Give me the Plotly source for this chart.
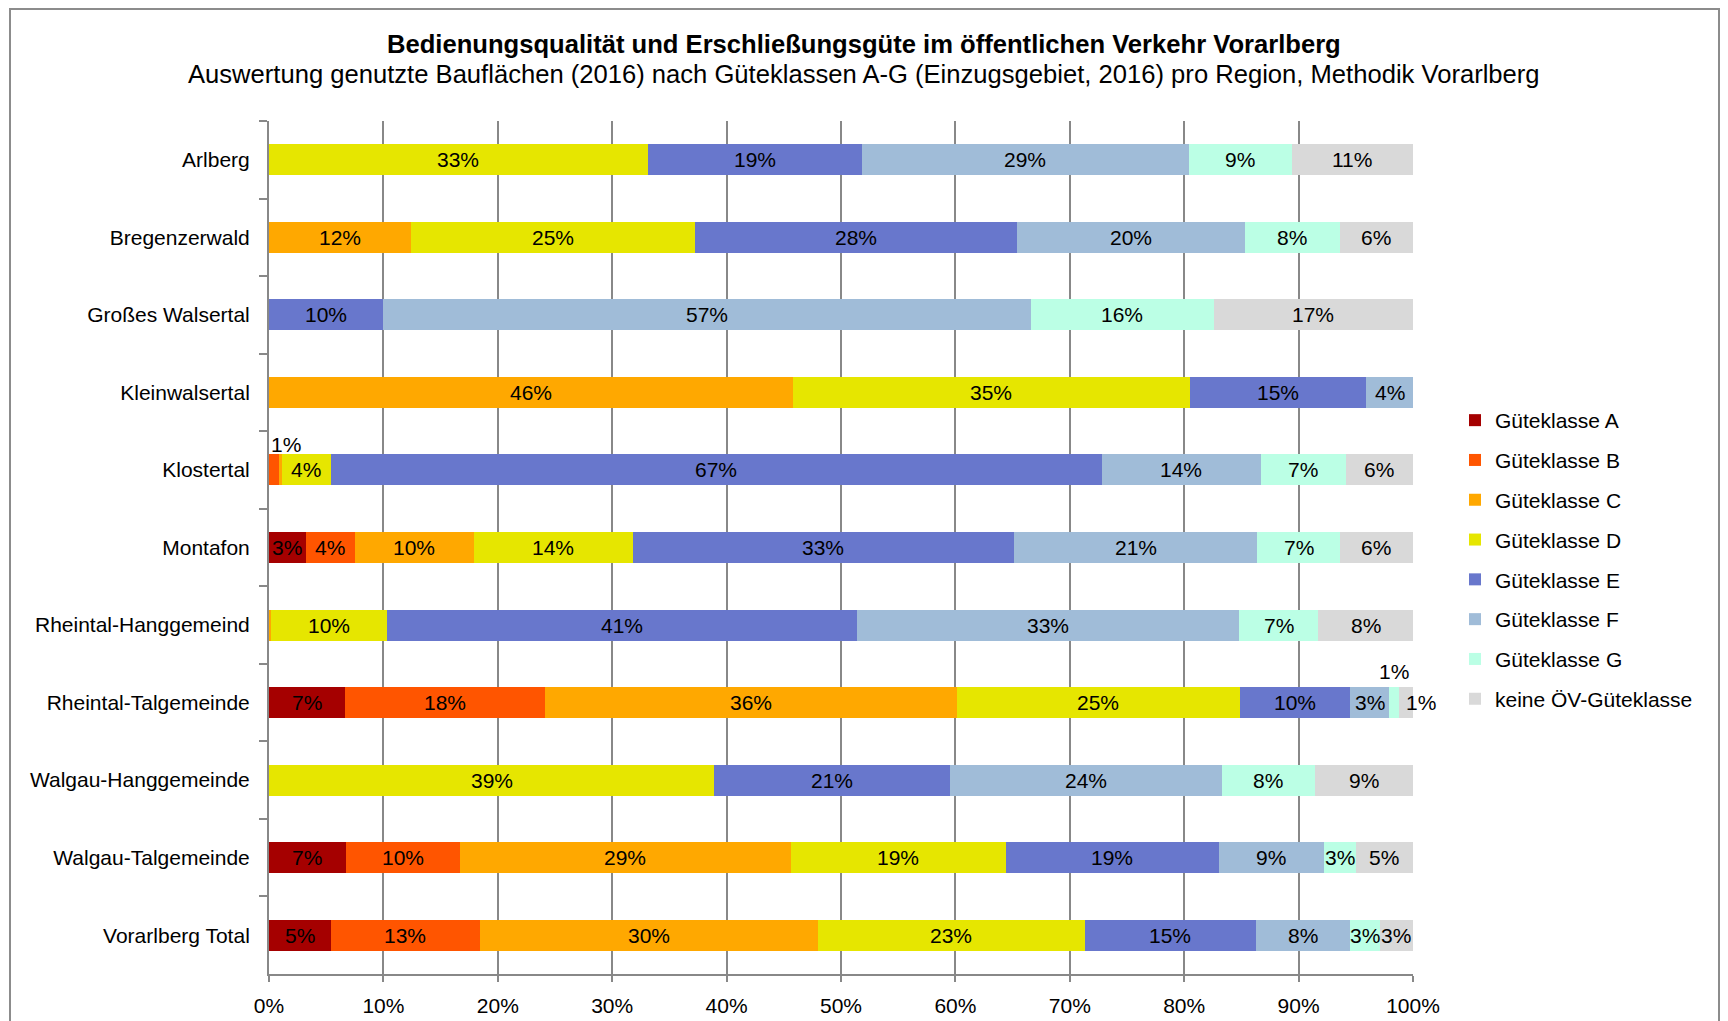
import plotly.graph_objects as go

categories = ["Arlberg", "Bregenzerwald", "Großes Walsertal", "Kleinwalsertal", "Klostertal",
              "Montafon", "Rheintal-Hanggemeind", "Rheintal-Talgemeinde", "Walgau-Hanggemeinde",
              "Walgau-Talgemeinde", "Vorarlberg Total"]

series_names = ["Güteklasse A", "Güteklasse B", "Güteklasse C", "Güteklasse D",
                "Güteklasse E", "Güteklasse F", "Güteklasse G", "keine ÖV-Güteklasse"]

klasse_a = [0, 0, 0, 0, 0, 3.2, 0, 6.6, 0, 6.7, 5.4]
klasse_b = [0, 0, 0, 0, 0.95, 4.3, 0, 17.5, 0, 10.0, 13.0]
klasse_c = [0, 12.4, 0, 45.8, 0.15, 10.4, 0.2, 36.0, 0, 28.9, 29.6]
klasse_d = [33.1, 24.8, 0, 34.7, 4.3, 13.9, 10.1, 24.8, 38.9, 18.8, 23.3]
klasse_e = [18.7, 28.2, 10.0, 15.4, 67.4, 33.3, 41.1, 9.6, 20.6, 18.6, 15.0]
klasse_f = [28.6, 19.9, 56.6, 4.1, 13.9, 21.3, 33.4, 3.4, 23.8, 9.2, 8.2]
klasse_g = [9.0, 8.3, 16.0, 0, 7.4, 7.2, 6.9, 0.9, 8.1, 2.8, 2.6]
keine = [10.6, 6.4, 17.4, 0, 5.9, 6.4, 8.3, 1.2, 8.6, 5.0, 2.9]

x_tick_values = [0, 10, 20, 30, 40, 50, 60, 70, 80, 90, 100]
x_tick_labels = ["0%", "10%", "20%", "30%", "40%", "50%", "60%", "70%", "80%", "90%", "100%"]

series_values = [klasse_a, klasse_b, klasse_c, klasse_d, klasse_e, klasse_f, klasse_g, keine]
colors = ["#A50000", "#FF5500", "#FFA800", "#E6E600", "#6877CC", "#A0BCD8", "#BBFFE5", "#D9D9D9"]

FONT = "Liberation Sans, Arial, sans-serif"
LABEL_SIZE = 21
TITLE_SIZE = 25.6

# label offsets (px) for small segments whose labels were moved
label_shift = {
    ("Klostertal", 1): (12, 25),
    ("Rheintal-Talgemeinde", 6): (0, 31),
    ("Rheintal-Talgemeinde", 7): (15, 0),
}

fig = go.Figure()
for i, (name, vals, col) in enumerate(zip(series_names, series_values, colors)):
    fig.add_trace(go.Bar(
        y=categories, x=vals, name=name, orientation="h",
        marker=dict(color=col, line=dict(width=0)),
        legendgroup=name, hoverinfo="x+name",
    ))

annotations = []
cum = [0.0] * len(categories)
for si, vals in enumerate(series_values):
    for ci, v in enumerate(vals):
        mid = cum[ci] + v / 2
        cum[ci] += v
        if v >= 0.5:
            dx, dy = label_shift.get((categories[ci], si), (0, 0))
            annotations.append(dict(
                x=mid, y=categories[ci], xref="x", yref="y",
                text=f"{int(v + 0.5)}%", showarrow=False,
                xshift=dx, yshift=dy,
                font=dict(family=FONT, size=LABEL_SIZE, color="#000000"),
            ))

OFF = 8  # page body offset
L, R, T, B = 269 - OFF, 315 + OFF, 121 - OFF, 47 + OFF
W, H = 1728, 1021
pw, ph = W - L - R, H - T - B
cx = (W / 2 - OFF - L) / pw

annotations.append(dict(
    x=cx, y=1 + (T - (44 - OFF)) / ph, xref="paper", yref="paper", showarrow=False,
    text="<b>Bedienungsqualität und Erschließungsgüte im öffentlichen Verkehr Vorarlberg</b>",
    font=dict(family=FONT, size=TITLE_SIZE, color="#000000"), xanchor="center", yanchor="middle",
))
annotations.append(dict(
    x=cx, y=1 + (T - (74 - OFF)) / ph, xref="paper", yref="paper", showarrow=False,
    text="Auswertung genutzte Bauflächen (2016) nach Güteklassen A-G (Einzugsgebiet, 2016) pro Region, Methodik Vorarlberg",
    font=dict(family=FONT, size=TITLE_SIZE, color="#000000"), xanchor="center", yanchor="middle",
))

# outer chart frame
xl = (10 - OFF - L) / pw
xr = (1719 - OFF - L) / pw
yt = 1 + (T - (9 - OFF)) / ph
yb = -(B + 5) / ph
shapes = [dict(type="path", xref="paper", yref="paper",
               path=f"M {xl} {yb} L {xl} {yt} L {xr} {yt} L {xr} {yb}",
               line=dict(color="#8C8C8C", width=2))]

fig.update_layout(
    width=W, height=H,
    barmode="stack", bargap=0.6,
    margin=dict(l=L, r=R, t=T, b=B, pad=0),
    paper_bgcolor="white", plot_bgcolor="white",
    font=dict(family=FONT, size=LABEL_SIZE, color="#000000"),
    showlegend=True,
    legend=dict(x=(1455 - OFF - L) / pw, y=(H - B - (400 - OFF)) / ph, xanchor="left", yanchor="top",
                font=dict(family=FONT, size=LABEL_SIZE, color="#000000"),
                tracegroupgap=9.5, traceorder="grouped", bgcolor="rgba(0,0,0,0)"),
    annotations=annotations,
    shapes=shapes,
    xaxis=dict(range=[0, 100], tickvals=x_tick_values, ticktext=x_tick_labels,
               showgrid=True, gridcolor="#888888", gridwidth=1.5,
               showline=True, linecolor="#888888", linewidth=2,
               ticks="outside", ticklen=6, tickcolor="#888888", tickwidth=2,
               ticklabelstandoff=6, zeroline=False, mirror=False,
               tickfont=dict(family=FONT, size=LABEL_SIZE, color="#000000")),
    yaxis=dict(autorange="reversed", showgrid=False,
               showline=True, linecolor="#888888", linewidth=2,
               ticks="outside", tickson="boundaries", ticklen=8, tickcolor="#888888", tickwidth=2,
               ticklabelstandoff=13,
               tickfont=dict(family=FONT, size=LABEL_SIZE, color="#000000")),
)

fig.write_html("out.html")
